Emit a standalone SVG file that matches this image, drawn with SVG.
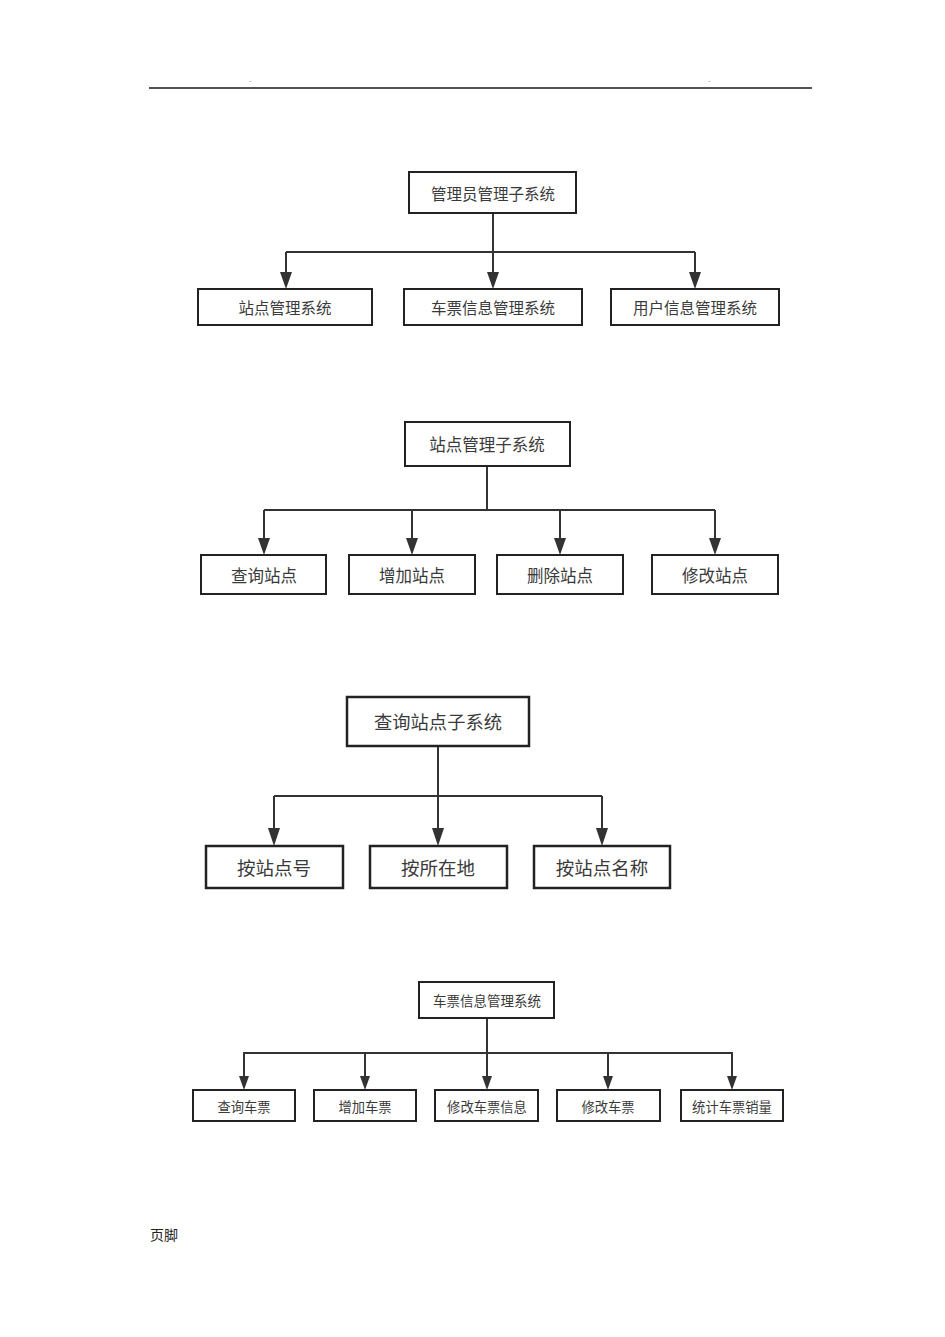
<svg xmlns="http://www.w3.org/2000/svg" width="945" height="1337" viewBox="0 0 945 1337">
<style>
.box{fill:#fff;stroke:#222;stroke-width:2}
.box3{fill:#fff;stroke:#222;stroke-width:2.5}
.t{font-family:"Noto Sans CJK SC","Liberation Sans",sans-serif;fill:#3a3a3a;text-anchor:middle;dominant-baseline:central}
.ln{fill:none;stroke:#333;stroke-width:2}
.ah{fill:#333}
</style>
<rect width="945" height="1337" fill="#fff"/>
<g id="header">
<line x1="149" y1="88" x2="812" y2="88" stroke="#1a1a1a" stroke-width="1.5"/>
<text x="249" y="82" font-family="Liberation Sans,sans-serif" font-size="8" fill="#333">.</text>
<text x="708" y="82" font-family="Liberation Sans,sans-serif" font-size="8" fill="#333">.</text>
</g>
<g id="connectors">
<path class="ln" d="M493,213 V252 M286,252 H695 M286,252 V274 M493,252 V274 M695,252 V274"/>
<path class="ah" d="M280,272 L292,272 L286,289 Z M487,272 L499,272 L493,289 Z M689,272 L701,272 L695,289 Z"/>
<path class="ln" d="M487,466 V510 M264,510 H715 M264,510 V540 M412,510 V540 M560,510 V540 M715,510 V540"/>
<path class="ah" d="M258,538 L270,538 L264,555 Z M406,538 L418,538 L412,555 Z M554,538 L566,538 L560,555 Z M709,538 L721,538 L715,555 Z"/>
<path class="ln" d="M438,746 V796 M274,796 H602 M274,796 V830 M438,796 V830 M602,796 V830"/>
<path class="ah" d="M268,828 L280,828 L274,846 Z M432,828 L444,828 L438,846 Z M596,828 L608,828 L602,846 Z"/>
<path class="ln" d="M487,1018 V1053 M243,1053 H733 M244,1053 V1077 M365,1053 V1077 M487,1053 V1077 M608,1053 V1077 M732,1053 V1077" stroke-width="1.8"/>
<path class="ah" d="M239,1076 L249,1076 L244,1090 Z M360,1076 L370,1076 L365,1090 Z M482,1076 L492,1076 L487,1090 Z M603,1076 L613,1076 L608,1090 Z M727,1076 L737,1076 L732,1090 Z"/>
</g>
<g id="n1root"><rect class="box" x="409" y="172" width="167" height="41"/><text class="t" x="493" y="193" font-size="15.5">管理员管理子系统</text></g>
<g id="n1a"><rect class="box" x="198" y="289" width="174" height="36"/><text class="t" x="285" y="307" font-size="15.5">站点管理系统</text></g>
<g id="n1b"><rect class="box" x="404" y="289" width="178" height="36"/><text class="t" x="493" y="307" font-size="15.5">车票信息管理系统</text></g>
<g id="n1c"><rect class="box" x="611" y="289" width="168" height="36"/><text class="t" x="695" y="307" font-size="15.5">用户信息管理系统</text></g>

<g id="n2root"><rect class="box" x="405" y="422" width="165" height="44"/><text class="t" x="487" y="444" font-size="16.5">站点管理子系统</text></g>
<g id="n2a"><rect class="box" x="201" y="555" width="125" height="39"/><text class="t" x="264" y="575" font-size="16.5">查询站点</text></g>
<g id="n2b"><rect class="box" x="349" y="555" width="126" height="39"/><text class="t" x="412" y="575" font-size="16.5">增加站点</text></g>
<g id="n2c"><rect class="box" x="497" y="555" width="126" height="39"/><text class="t" x="560" y="575" font-size="16.5">删除站点</text></g>
<g id="n2d"><rect class="box" x="652" y="555" width="126" height="39"/><text class="t" x="715" y="575" font-size="16.5">修改站点</text></g>

<g id="n3root"><rect class="box3" x="347" y="697" width="182" height="49"/><text class="t" x="438" y="721" font-size="18.3">查询站点子系统</text></g>
<g id="n3a"><rect class="box3" x="206" y="846" width="137" height="42"/><text class="t" x="274" y="867" font-size="18.5">按站点号</text></g>
<g id="n3b"><rect class="box3" x="370" y="846" width="137" height="42"/><text class="t" x="438" y="867" font-size="18.5">按所在地</text></g>
<g id="n3c"><rect class="box3" x="534" y="846" width="136" height="42"/><text class="t" x="602" y="867" font-size="18.5">按站点名称</text></g>

<g id="n4root"><rect class="box" x="419" y="982" width="135" height="36"/><text class="t" x="487" y="1000" font-size="13.5">车票信息管理系统</text></g>
<g id="n4a"><rect class="box" x="193" y="1090" width="102" height="31"/><text class="t" x="244" y="1106" font-size="13.3">查询车票</text></g>
<g id="n4b"><rect class="box" x="314" y="1090" width="102" height="31"/><text class="t" x="365" y="1106" font-size="13.3">增加车票</text></g>
<g id="n4c"><rect class="box" x="435" y="1090" width="103" height="31"/><text class="t" x="487" y="1106" font-size="13.3">修改车票信息</text></g>
<g id="n4d"><rect class="box" x="557" y="1090" width="103" height="31"/><text class="t" x="608" y="1106" font-size="13.3">修改车票</text></g>
<g id="n4e"><rect class="box" x="681" y="1090" width="102" height="31"/><text class="t" x="732" y="1106" font-size="13.3">统计车票销量</text></g>

<g id="footer"><text x="150" y="1234" font-family="Noto Sans CJK SC,Liberation Sans,sans-serif" font-size="14" fill="#222" dominant-baseline="central">页脚</text></g>
</svg>
